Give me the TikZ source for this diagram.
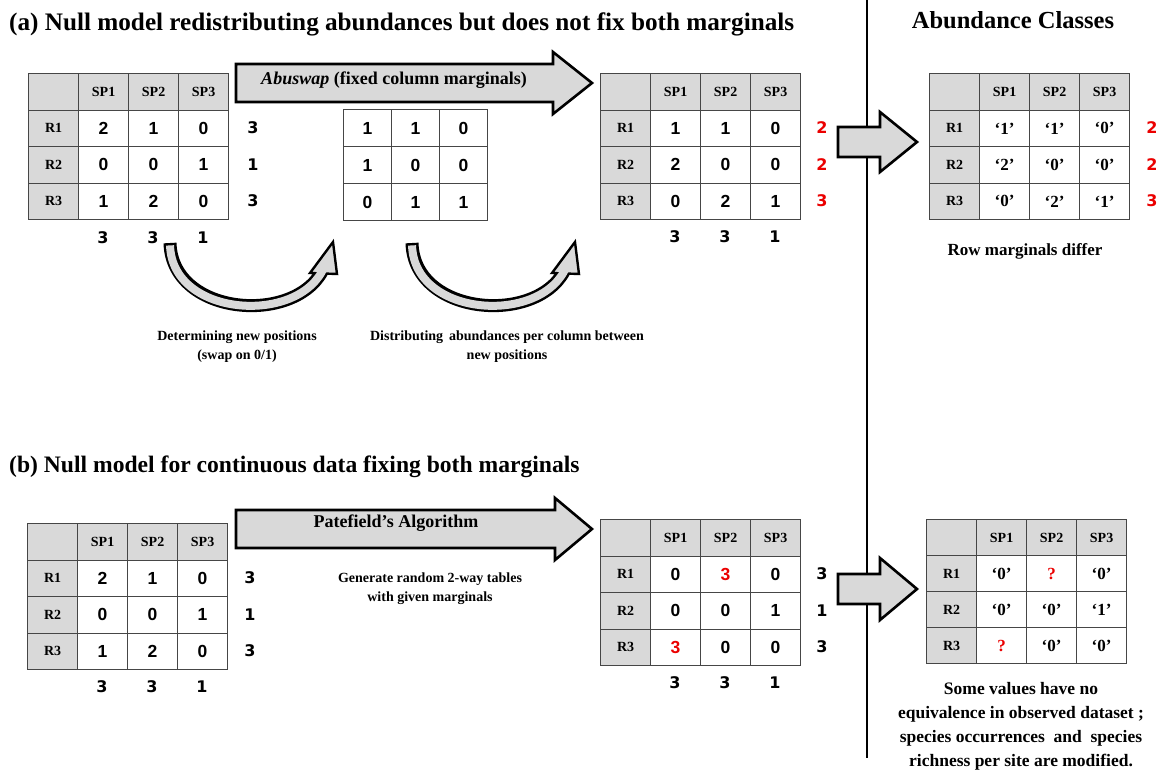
\documentclass[tikz,border=0pt]{standalone}
\usepackage{fontspec}
\setmainfont{Liberation Serif}
\newfontfamily\numfam{Liberation Sans}
\newfontfamily\margfam{DejaVu Sans}
\usetikzlibrary{matrix}

\definecolor{hdrgray}{RGB}{217,217,217}
\definecolor{arrowgray}{RGB}{217,217,217}
\definecolor{tabline}{RGB}{70,70,70}
\definecolor{mred}{RGB}{235,0,0}

\newcommand\titlefont{\rmfamily\bfseries\fontsize{24}{28}\selectfont}
\newcommand\cellfont{\numfam\bfseries\fontsize{17.5}{20}\selectfont}
\newcommand\hdrfont{\rmfamily\bfseries\fontsize{14}{16}\selectfont}
\newcommand\quotefont{\rmfamily\bfseries\fontsize{17}{20}\selectfont}
\newcommand\margfont{\margfam\bfseries\fontsize{16}{18}\selectfont}
\newcommand\notefont{\rmfamily\bfseries\fontsize{14}{19}\selectfont}

% block arrow: start x, centre y, head base x, tip x, half shaft, half head
\newcommand\blockarrow[6]{%
  \draw[bigarrow] (#1,#2-#5) -- (#3,#2-#5) -- (#3,#2-#6) -- (#4,#2)
    -- (#3,#2+#6) -- (#3,#2+#5) -- (#1,#2+#5) -- cycle;}

% curved block arrow, shifted horizontally by #1
\newcommand\bendarrow[1]{%
  \begin{scope}[xshift=#1pt]
    \draw[line width=13pt, black] (170,243) .. controls (172,318) and (302,326) .. (325,265);
    \draw[bigarrow, line width=2.4pt] (333,242) -- (310,273) -- (337,274) -- cycle;
    \draw[line width=8pt, arrowgray, shorten <=2.4pt] (170,243) .. controls (172,318) and (302,326) .. (325,265);
  \end{scope}}

\tikzset{
  cellbox/.style={draw=tabline, line width=1.2pt, minimum width=50pt,
    minimum height=36.5pt, inner sep=0pt, outer sep=0.6pt, fill=white,
    font=\cellfont, anchor=center},
  hdr/.style={fill=hdrgray, font=\hdrfont},
  redtxt/.style={text=mred},
  tab/.style={matrix of nodes, nodes in empty cells, anchor=north west,
    inner sep=0pt, outer sep=0pt, column sep=-1.2pt, row sep=-1.2pt,
    nodes={cellbox}},
  marg/.style={font=\margfont, inner sep=0pt},
  txt/.style={inner sep=0pt, align=center},
  bigarrow/.style={draw=black, line width=2.6pt, fill=arrowgray,
    line join=miter, miter limit=4},
}

\begin{document}
\begin{tikzpicture}[x=1pt,y=-1pt]
\useasboundingbox (0,0) rectangle (1164,773);
\fill[white] (0,0) rectangle (1164,773);

% divider between the two columns
\draw[line width=1.2pt] (867,0) -- (867,758);

% ---------- titles ----------
\node[txt, anchor=west, font=\rmfamily\bfseries\fontsize{25.2}{28}\selectfont] (titleA) at (9,24)
  {(a) Null model redistributing abundances but does not fix both marginals};
\node[txt, font=\rmfamily\bfseries\fontsize{24.5}{28}\selectfont] (titleC) at (1013,20) {Abundance Classes};
\node[txt, anchor=west, font=\rmfamily\bfseries\fontsize{23.6}{28}\selectfont] (titleB) at (9,467)
  {(b) Null model for continuous data fixing both marginals};

% ---------- (a) observed table ----------
\matrix (A) [tab] at (28,73) {
|[hdr]| & |[hdr]| SP1 & |[hdr]| SP2 & |[hdr]| SP3 \\
|[hdr]| R1 & 2 & 1 & 0 \\
|[hdr]| R2 & 0 & 0 & 1 \\
|[hdr]| R3 & 1 & 2 & 0 \\
};
\foreach \v [count=\i] in {3,1,3}
  \node[marg] (Ar\i) at (253,{91.25+36.5*\i}) {\v};
\foreach \v [count=\i] in {3,3,1}
  \node[marg] (Ac\i) at ({53+50*\i},238) {\v};

% ---------- (a) swapped presence/absence table ----------
\matrix (M) [tab, nodes={minimum width=48pt, minimum height=37pt}] at (343,109) {
1 & 1 & 0 \\
1 & 0 & 0 \\
0 & 1 & 1 \\
};

% ---------- (a) randomised table ----------
\matrix (C) [tab] at (600,73) {
|[hdr]| & |[hdr]| SP1 & |[hdr]| SP2 & |[hdr]| SP3 \\
|[hdr]| R1 & 1 & 1 & 0 \\
|[hdr]| R2 & 2 & 0 & 0 \\
|[hdr]| R3 & 0 & 2 & 1 \\
};
\foreach \v [count=\i] in {2,2,3}
  \node[marg, text=mred] (Cr\i) at (822,{91.25+36.5*\i}) {\v};
\foreach \v [count=\i] in {3,3,1}
  \node[marg] (Cc\i) at ({625+50*\i},237) {\v};

% ---------- (a) abundance classes ----------
\matrix (D) [tab, nodes={font=\quotefont}] at (929,73) {
|[hdr]| & |[hdr]| SP1 & |[hdr]| SP2 & |[hdr]| SP3 \\
|[hdr]| R1 & ‘1’ & ‘1’ & ‘0’ \\
|[hdr]| R2 & ‘2’ & ‘0’ & ‘0’ \\
|[hdr]| R3 & ‘0’ & ‘2’ & ‘1’ \\
};
\foreach \v [count=\i] in {2,2,3}
  \node[marg, text=mred] (Dr\i) at (1152,{91.25+36.5*\i}) {\v};
\node[txt, font=\rmfamily\bfseries\fontsize{17}{20}\selectfont] (Dnote) at (1025,251)
  {Row marginals differ};

% ---------- (a) arrows ----------
\blockarrow{236}{83}{553}{592}{19}{31}
\node[txt, font=\rmfamily\bfseries\fontsize{18}{20}\selectfont] (abuswap) at (394,80)
  {\textit{Abuswap} (fixed column marginals)};
\blockarrow{838}{142}{880}{917}{15}{30}

\bendarrow{0}
\bendarrow{242}

\node[txt, font=\notefont] (noteA1) at (237,347)
  {Determining new positions\\(swap on 0/1)};
\node[txt, font=\notefont] (noteA2) at (507,347)
  {Distributing\, abundances per column between\\new positions};

% ---------- (b) observed table ----------
\matrix (E) [tab] at (27,523) {
|[hdr]| & |[hdr]| SP1 & |[hdr]| SP2 & |[hdr]| SP3 \\
|[hdr]| R1 & 2 & 1 & 0 \\
|[hdr]| R2 & 0 & 0 & 1 \\
|[hdr]| R3 & 1 & 2 & 0 \\
};
\foreach \v [count=\i] in {3,1,3}
  \node[marg] (Er\i) at (250,{541.25+36.5*\i}) {\v};
\foreach \v [count=\i] in {3,3,1}
  \node[marg] (Ec\i) at ({52+50*\i},687) {\v};

% ---------- (b) Patefield table ----------
\matrix (F) [tab] at (600,519) {
|[hdr]| & |[hdr]| SP1 & |[hdr]| SP2 & |[hdr]| SP3 \\
|[hdr]| R1 & 0 & |[redtxt]| 3 & 0 \\
|[hdr]| R2 & 0 & 0 & 1 \\
|[hdr]| R3 & |[redtxt]| 3 & 0 & 0 \\
};
\foreach \v [count=\i] in {3,1,3}
  \node[marg] (Fr\i) at (822,{537.25+36.5*\i}) {\v};
\foreach \v [count=\i] in {3,3,1}
  \node[marg] (Fc\i) at ({625+50*\i},683) {\v};

% ---------- (b) abundance classes ----------
\matrix (G) [tab, nodes={font=\quotefont, minimum height=36pt}] at (926,519) {
|[hdr]| & |[hdr]| SP1 & |[hdr]| SP2 & |[hdr]| SP3 \\
|[hdr]| R1 & ‘0’ & |[redtxt]| ? & ‘0’ \\
|[hdr]| R2 & ‘0’ & ‘0’ & ‘1’ \\
|[hdr]| R3 & |[redtxt]| ? & ‘0’ & ‘0’ \\
};
\node[txt, font=\rmfamily\bfseries\fontsize{17.5}{24}\selectfont] (Gnote) at (1021,726)
  {Some values have no\\equivalence in observed dataset ;\\species occurrences\ \ and\ \ species\\richness per site are modified.};

% ---------- (b) arrows ----------
\blockarrow{236}{529}{555}{592}{19}{31}
\node[txt, font=\rmfamily\bfseries\fontsize{18}{20}\selectfont] (patefield) at (396,523)
  {Patefield's Algorithm};
\node[txt, font=\notefont, align=center] (noteB) at (430,589)
  {Generate random 2-way tables\\with given marginals};
\blockarrow{838}{589}{880}{917}{15}{31}
\end{tikzpicture}
\end{document}
